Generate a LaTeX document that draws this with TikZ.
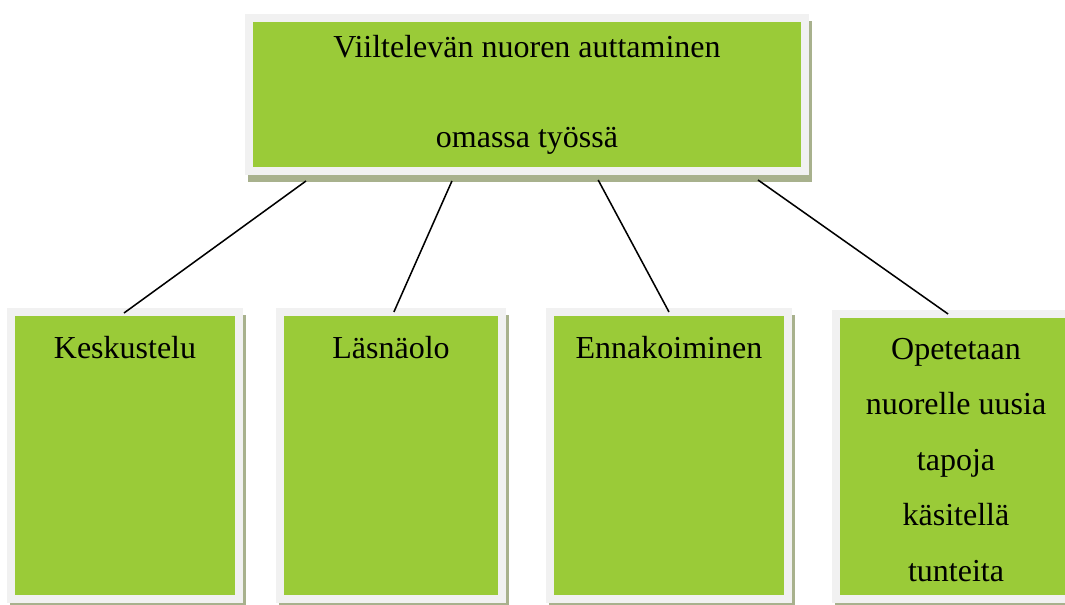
\documentclass[tikz,border=0pt]{standalone}
\usepackage{fontspec}
\setmainfont{Liberation Serif}
\usetikzlibrary{calc,shadows}
\definecolor{boxgreen}{HTML}{9ACB38}
\definecolor{framegrey}{HTML}{F1F1F1}
\definecolor{shadowc}{HTML}{A8B18D}
\tikzset{
  greenbox/.style={draw=framegrey, line width=6pt, fill=boxgreen, inner sep=0pt, outer sep=0pt,
    drop shadow={shadow xshift=2.4pt, shadow yshift=-5pt, fill=shadowc, draw=shadowc, line width=6pt, opacity=1}},
  conn/.style={draw=black, line width=1.15pt}
}
\newcommand{\boxtext}[3]{\parbox[c][#1][t]{#2}{\centering\fontsize{24pt}{41.6pt}\selectfont\vspace*{18pt}#3\par}}
\begin{document}
\begin{tikzpicture}[x=0.75pt,y=-0.75pt]
\useasboundingbox (0,0) rectangle (1065,604);
\node[greenbox, minimum width=417pt, minimum height=114.75pt, align=center,
  font=\fontsize{24pt}{67.5pt}\selectfont] (top) at (527,94.5)
  {Viiltelevän nuoren auttaminen\\omassa työssä};
\node[greenbox] (b1) at (125,455.5) {\boxtext{215.25pt}{171pt}{Keskustelu}};
\node[greenbox] (b2) at (391,455.5) {\boxtext{215.25pt}{166.5pt}{Läsnäolo}};
\node[greenbox] (b3) at (669,455.5) {\boxtext{215.25pt}{178.5pt}{Ennakoiminen}};
\node[greenbox] (b4) at (956,456.5) {\boxtext{213.75pt}{180pt}{Opetetaan\\nuorelle uusia\\tapoja\\käsitellä\\tunteita}};
\coordinate (s1) at ($(top.south west)!0.1025!(top.south east)+(0,10)$);
\coordinate (s2) at ($(top.south west)!0.365!(top.south east)+(0,10)$);
\coordinate (s3) at ($(top.south west)!0.628!(top.south east)+(0,9)$);
\coordinate (s4) at ($(top.south west)!0.9155!(top.south east)+(0,9)$);
\draw[conn] (s1) -- ($(b1.north)+(-1,1)$);
\draw[conn] (s2) -- ($(b2.north west)!0.513!(b2.north east)$);
\draw[conn] (s3) -- (b3.north);
\draw[conn] (s4) -- ($(b4.north west)!0.467!(b4.north east)$);
\end{tikzpicture}
\end{document}
